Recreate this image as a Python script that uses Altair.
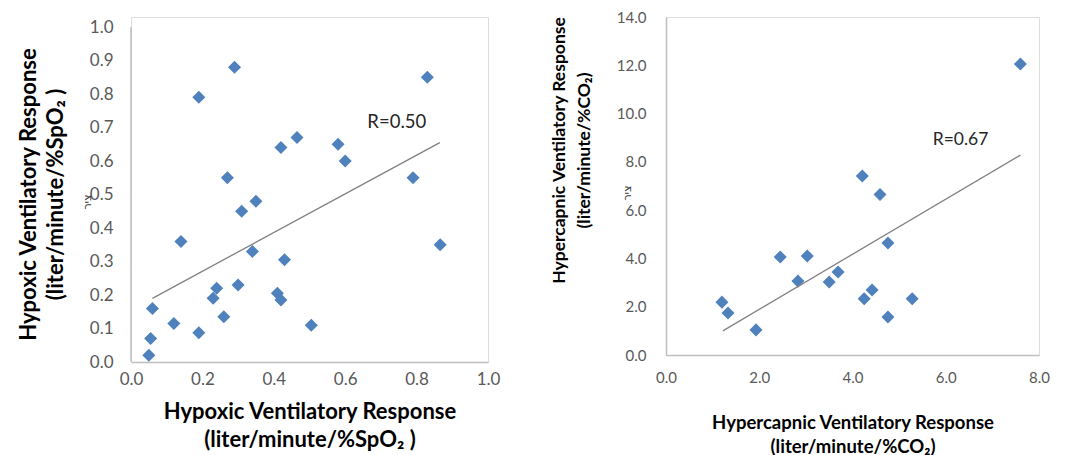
import altair as alt
import pandas as pd

# ---- data ----
hvr_x = [0.29, 0.19, 0.83, 0.42, 0.465, 0.58, 0.60, 0.27, 0.79, 0.31, 0.35, 0.14, 0.34, 0.43,
         0.866, 0.30, 0.24, 0.23, 0.41, 0.42, 0.06, 0.12, 0.26, 0.19, 0.505, 0.055, 0.05]
hvr_y = [0.88, 0.79, 0.85, 0.64, 0.67, 0.65, 0.60, 0.55, 0.55, 0.45, 0.48, 0.36, 0.33, 0.305,
         0.35, 0.23, 0.22, 0.19, 0.205, 0.185, 0.16, 0.115, 0.135, 0.087, 0.11, 0.07, 0.02]
hvr_trend_x = [0.06, 0.865]
hvr_trend_y = [0.19, 0.655]

hcvr_x = [7.60, 4.21, 4.59, 4.76, 2.45, 3.03, 3.69, 3.50, 2.83, 4.42, 4.25, 5.28, 1.20, 1.33, 4.76, 1.93]
hcvr_y = [12.05, 7.41, 6.65, 4.64, 4.06, 4.10, 3.44, 3.02, 3.06, 2.69, 2.33, 2.33, 2.19, 1.74, 1.57, 1.04]
hcvr_trend_x = [1.22, 7.60]
hcvr_trend_y = [1.0, 8.28]

left_yticks = [0.0, 0.1, 0.2, 0.3, 0.4, 0.5, 0.6, 0.7, 0.8, 0.9, 1.0]
left_xticks = [0.0, 0.2, 0.4, 0.6, 0.8, 1.0]
right_yticks = [0, 2, 4, 6, 8, 10, 12, 14]
right_xticks = [0, 2, 4, 6, 8]

hebrew = ["ציר"]
r_left = ["R=0.50"]
r_right = ["R=0.67"]

BLUE = "#4F81BD"
LABEL = "#595959"
AXIS = "#BFBFBF"
FONT = "Lato"

df_l = pd.DataFrame({"x": hvr_x, "y": hvr_y})
df_lt = pd.DataFrame({"x": hvr_trend_x, "y": hvr_trend_y})
df_r = pd.DataFrame({"x": hcvr_x, "y": hcvr_y})
df_rt = pd.DataFrame({"x": hcvr_trend_x, "y": hcvr_trend_y})


def axis(values, title, lsize, tsize, **kw):
    return alt.Axis(values=values, format=".1f", title=title, grid=False, ticks=False, tickSize=0,
                    domainColor=AXIS, domainWidth=1.5, labelColor=LABEL, labelFont=FONT,
                    labelFontSize=lsize, labelOverlap=False, labelFlush=False, titleFont=FONT,
                    titleFontSize=tsize, titleColor="#000000", titleFontWeight="bold", **kw)


# ---------------- left panel ----------------
l_title = ["Hypoxic Ventilatory Response", "(liter/minute/%SpO₂ )"]
lxs = alt.Scale(domain=[0, 1], nice=False, padding=0, zero=False)
lys = alt.Scale(domain=[0, 345 / 335], nice=False, padding=0, zero=False)
lxa = axis(left_xticks, l_title, 17, 22, labelPadding=9, titleBaseline="top", titleY=39,
           titleLineHeight=28)
lya = axis(left_yticks, l_title, 17, 22, labelPadding=18, titleBaseline="top", titleX=-113,
           titleY=177, titleLineHeight=27, domain=False)


def LX(f="x"):
    return alt.X(f"{f}:Q", scale=lxs, axis=lxa)


def LY(f="y"):
    return alt.Y(f"{f}:Q", scale=lys, axis=lya)


def LXD(v):
    return alt.XDatum(v, type="quantitative", scale=lxs, axis=lxa)


def LYD(v):
    return alt.YDatum(v, type="quantitative", scale=lys, axis=lya)


l_pts = alt.Chart(df_l).mark_point(shape="diamond", filled=True, size=170, color=BLUE,
                                   opacity=1).encode(x=LX(), y=LY())
l_axis = alt.Chart(pd.DataFrame({"a": [0]})).mark_rule(color=AXIS, strokeWidth=1.5).encode(
    x=LXD(0), y=LYD(0), y2=alt.Y2Datum(1))
l_line = alt.Chart(df_lt).mark_line(color="#808080", strokeWidth=1.3).encode(x=LX(), y=LY())
l_r = alt.Chart(pd.DataFrame({"t": r_left})).mark_text(align="left", baseline="middle", font=FONT,
                                                        fontSize=18.5, color="#262626").encode(
    x=LXD(0.662), y=LYD(0.716), text="t:N")
l_heb = alt.Chart(pd.DataFrame({"t": hebrew})).mark_text(angle=270, font="DejaVu Sans", fontSize=11,
                                                         color="#333333").encode(
    x=alt.value(-43), y=alt.value(185), text="t:N")

left = alt.layer(l_pts, l_axis, l_line, l_r, l_heb).properties(width=357, height=345)

# ---------------- right panel ----------------
r_title = ["Hypercapnic Ventilatory Response", "(liter/minute/%CO₂)"]
rxs = alt.Scale(domain=[0, 8], nice=False, padding=0)
rys = alt.Scale(domain=[0, 14], nice=False, padding=0)
rxa = axis(right_xticks, r_title, 15, 18.5, labelPadding=15, titleBaseline="top", titleY=58,
           titleLineHeight=24)
rya = axis(right_yticks, r_title, 15, 17.5, labelPadding=20, titleBaseline="top", titleX=-116,
           titleY=133, titleLineHeight=25)


def RX(f="x"):
    return alt.X(f"{f}:Q", scale=rxs, axis=rxa)


def RY(f="y"):
    return alt.Y(f"{f}:Q", scale=rys, axis=rya)


r_pts = alt.Chart(df_r).mark_point(shape="diamond", filled=True, size=170, color=BLUE,
                                   opacity=1).encode(x=RX(), y=RY())
r_line = alt.Chart(df_rt).mark_line(color="#808080", strokeWidth=1.3).encode(x=RX(), y=RY())
r_r = alt.Chart(pd.DataFrame({"t": r_right})).mark_text(align="left", baseline="middle", font=FONT,
                                                         fontSize=17.5, color="#262626").encode(
    x=alt.XDatum(5.72, type="quantitative", scale=rxs, axis=rxa),
    y=alt.YDatum(8.9, type="quantitative", scale=rys, axis=rya), text="t:N")
r_heb = alt.Chart(pd.DataFrame({"t": hebrew})).mark_text(angle=270, font="DejaVu Sans", fontSize=11,
                                                         color="#333333").encode(
    x=alt.value(-38), y=alt.value(176), text="t:N")

right = alt.layer(r_pts, r_line, r_r, r_heb).properties(width=373, height=338)

chart = alt.hconcat(left, right, spacing=48).resolve_scale(x="independent", y="independent").properties(
    padding={"left": 8, "top": 1, "right": 5, "bottom": 0}
).configure_view(stroke=None).configure(background="white")

chart.save("out.html", embed_options={"renderer": "svg", "actions": False})
